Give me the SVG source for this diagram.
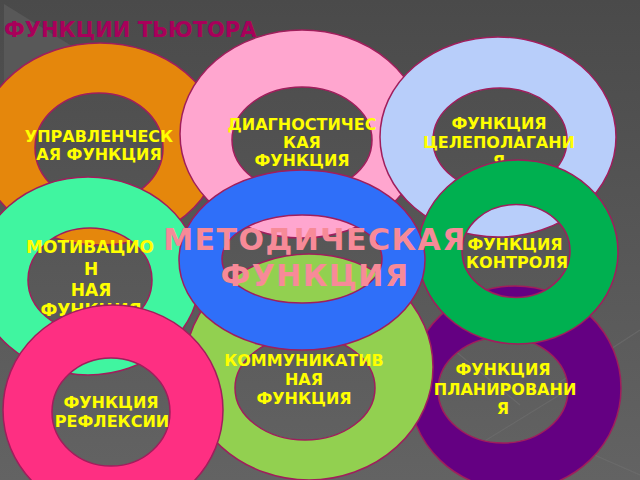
<svg xmlns="http://www.w3.org/2000/svg" width="640" height="480" viewBox="0 0 640 480">
<defs>
<linearGradient id="bg" x1="0" y1="0" x2="0" y2="1">
<stop offset="0" stop-color="#4a4a4a"/>
<stop offset="1" stop-color="#636363"/>
</linearGradient>
</defs>
<style>
.ring{fill-rule:evenodd;stroke:#a01e5c;stroke-width:1.5}
.lbl{font-family:"DejaVu Sans","Liberation Sans",sans-serif;font-weight:bold;font-size:16px;fill:#ffff00;text-anchor:middle}
.big{font-family:"DejaVu Sans","Liberation Sans",sans-serif;font-weight:bold;font-size:30px;fill:#f78a98;text-anchor:middle;letter-spacing:1.5px}
.title{font-family:"DejaVu Sans","Liberation Sans",sans-serif;font-weight:bold;font-size:21px;fill:#a8005a}
.streak{stroke:#707070;stroke-width:1.2;fill:none;opacity:0.6}
</style>
<rect width="640" height="480" fill="url(#bg)"/>
<polygon points="4,4 75,48 4,130" fill="#585858"/>
<g id="background-streaks">
<line class="streak" x1="640" y1="330" x2="540" y2="395"/>
<line class="streak" x1="600" y1="370" x2="470" y2="450"/>
<line class="streak" x1="430" y1="330" x2="520" y2="405"/>
<line class="streak" x1="560" y1="440" x2="640" y2="475"/>
</g>
<text class="title" x="4" y="37">ФУНКЦИИ ТЬЮТОРА</text>

<g id="upravlencheskaya">
<path class="ring" fill="#e5870c" d="M-21,144 a121,101 0 1,0 242,0 a121,101 0 1,0 -242,0 Z M35,148 a64,55 0 1,0 128,0 a64,55 0 1,0 -128,0 Z"/>
<text class="lbl" x="99" y="142">УПРАВЛЕНЧЕСК</text>
<text class="lbl" x="99" y="160">АЯ ФУНКЦИЯ</text>
</g>

<g id="diagnosticheskaya">
<path class="ring" fill="#ffa6cf" d="M180,134 a122,104 0 1,0 244,0 a122,104 0 1,0 -244,0 Z M232,140 a70,53 0 1,0 140,0 a70,53 0 1,0 -140,0 Z"/>
<text class="lbl" x="302" y="130">ДИАГНОСТИЧЕС</text>
<text class="lbl" x="302" y="148">КАЯ</text>
<text class="lbl" x="302" y="166">ФУНКЦИЯ</text>
</g>

<g id="celepolaganiya">
<path class="ring" fill="#b8cefa" d="M380,137 a118,100 0 1,0 236,0 a118,100 0 1,0 -236,0 Z M433,140 a67,52 0 1,0 134,0 a67,52 0 1,0 -134,0 Z"/>
<text class="lbl" x="499" y="129">ФУНКЦИЯ</text>
<text class="lbl" x="499" y="148">ЦЕЛЕПОЛАГАНИ</text>
<text class="lbl" x="499" y="167">Я</text>
</g>

<g id="motivacionnaya">
<path class="ring" fill="#40f5a0" d="M-24,276 a112,99 0 1,0 224,0 a112,99 0 1,0 -224,0 Z M28,280 a62,52 0 1,0 124,0 a62,52 0 1,0 -124,0 Z"/>
<text class="lbl" x="90" y="253" style="font-size:17px">МОТИВАЦИО</text>
<text class="lbl" x="91" y="275" style="font-size:17px">Н</text>
<text class="lbl" x="91" y="296" style="font-size:17px">НАЯ</text>
<text class="lbl" x="91" y="316" style="font-size:17px">ФУНКЦИЯ</text>
</g>

<g id="planirovaniya">
<path class="ring" fill="#640082" d="M409,388 a106,102 0 1,0 212,0 a106,102 0 1,0 -212,0 Z M438,390 a65,53 0 1,0 130,0 a65,53 0 1,0 -130,0 Z"/>
<text class="lbl" x="503" y="375">ФУНКЦИЯ</text>
<text class="lbl" x="505" y="395">ПЛАНИРОВАНИ</text>
<text class="lbl" x="503" y="414">Я</text>
</g>

<g id="kommunikativnaya">
<path class="ring" fill="#92d050" d="M185,367 a124,113 0 1,0 248,0 a124,113 0 1,0 -248,0 Z M235,388 a70,52 0 1,0 140,0 a70,52 0 1,0 -140,0 Z"/>
<text class="lbl" x="304" y="366">КОММУНИКАТИВ</text>
<text class="lbl" x="304" y="385">НАЯ</text>
<text class="lbl" x="304" y="404">ФУНКЦИЯ</text>
</g>

<g id="kontrolya">
<path class="ring" fill="#00b050" d="M418,252 a100,92 0 1,0 200,0 a100,92 0 1,0 -200,0 Z M462,251 a54,46.5 0 1,0 108,0 a54,46.5 0 1,0 -108,0 Z"/>
<text class="lbl" x="515" y="250">ФУНКЦИЯ</text>
<text class="lbl" x="517" y="268">КОНТРОЛЯ</text>
</g>

<g id="metodicheskaya">
<path class="ring" fill="#2f6ff9" d="M179,260 a123,90 0 1,0 246,0 a123,90 0 1,0 -246,0 Z M222,259 a80,44 0 1,0 160,0 a80,44 0 1,0 -160,0 Z"/>
<text class="big" x="315" y="250">МЕТОДИЧЕСКАЯ</text>
<text class="big" x="315" y="286">ФУНКЦИЯ</text>
</g>

<g id="refleksii">
<path class="ring" fill="#fe2f82" d="M3,410 a110,105 0 1,0 220,0 a110,105 0 1,0 -220,0 Z M52,412 a59,54 0 1,0 118,0 a59,54 0 1,0 -118,0 Z"/>
<text class="lbl" x="111" y="408">ФУНКЦИЯ</text>
<text class="lbl" x="112" y="427">РЕФЛЕКСИИ</text>
</g>
</svg>
